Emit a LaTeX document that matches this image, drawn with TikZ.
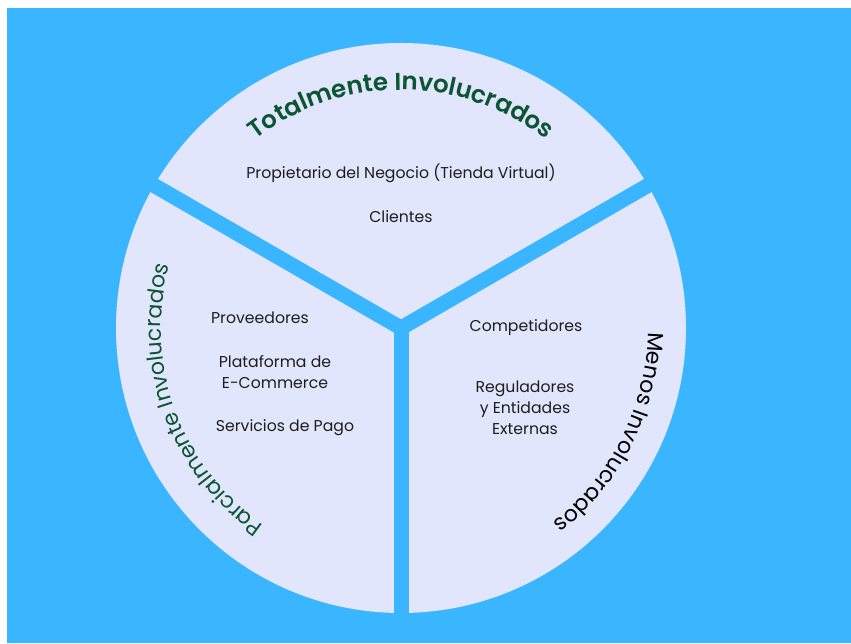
\documentclass[tikz,border=0pt]{standalone}
\usepackage{fontspec}
\setmainfont{Poppins}
\newfontfamily\headfont{Poppins SemiBold}
\usetikzlibrary{decorations.text}
\definecolor{skyblue}{HTML}{3AB5FF}
\definecolor{lavender}{HTML}{E1E6FC}
\definecolor{leafgreen}{HTML}{0C5533}
\definecolor{inktext}{HTML}{1E1E1E}
\begin{document}
\begin{tikzpicture}[x=1pt,y=1pt,
  item/.style={text=inktext, font=\fontsize{15.7}{21}\selectfont, align=center, inner sep=0pt},
  divider/.style={skyblue, line width=15pt}]
% page and backdrop
\fill[white] (0,0) rectangle (851,643);
\fill[skyblue] (7,0) rectangle (851,635);
\useasboundingbox (0,0) rectangle (851,643);
% the disc and its three dividers
\coordinate (C) at (401,315);
\fill[lavender] (C) circle[radius=285];
\foreach \a/\n in {30/dA,150/dB,270/dC} {
  \path (C) ++(\a:296) coordinate (\n);
  \draw[divider] (C) -- (\n);
}
% curved section titles
\path (C) ++(150:238) coordinate (topstart);
\path[decorate, decoration={text along path, text align=center,
  text={|\fontsize{24.5}{24.5}\headfont\color{leafgreen}|Totalmente Involucrados}}]
  (topstart) arc[start angle=150, end angle=30, radius=238];
\path (C) ++(260:240) coordinate (leftstart);
\path[decorate, decoration={text along path, text align=center,
  text={|\fontsize{22}{22}\selectfont\color{leafgreen}|Parcialmente Involucrados}}]
  (leftstart) arc[start angle=260, end angle=140, radius=240];
\path (C) ++(34:247) coordinate (rightstart);
\path[decorate, decoration={text along path, text align=center,
  text={|\fontsize{22}{22}\selectfont\color{black}|Menos Involucrados}}]
  (rightstart) arc[start angle=34, end angle=-87, radius=247];
% entries of each section
\node[item] (owner) at (401,470) {Propietario del Negocio (Tienda Virtual)};
\node[item] (clients) at (401,426) {Clientes};
\node[item] (suppliers) at (260,325) {Proveedores};
\node[item] (platform) at (275,271) {Plataforma de\\E-Commerce};
\node[item] (payments) at (285,215) {Servicios de Pago};
\node[item] (competitors) at (526,315) {Competidores};
\node[item] (regulators) at (525,235) {Reguladores\\y Entidades\\Externas};
\end{tikzpicture}
\end{document}
